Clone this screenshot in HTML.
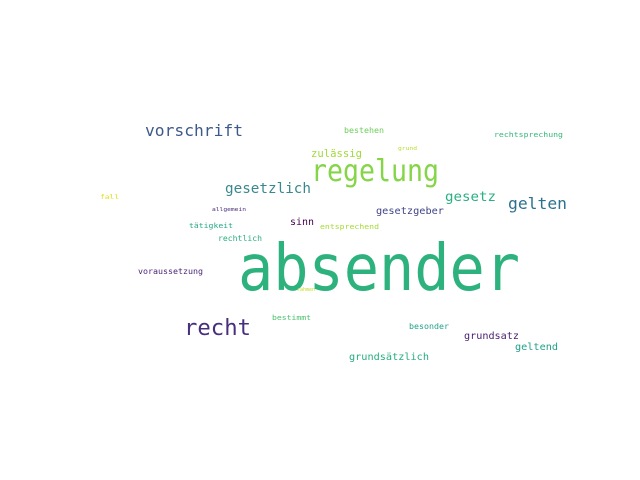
<!DOCTYPE html>
<html><head><meta charset="utf-8"><style>
html,body{margin:0;padding:0;background:#fff;width:640px;height:480px;overflow:hidden}
svg text{font-family:"DejaVu Sans Mono","Liberation Mono",monospace}
</style></head><body>
<svg width="640" height="480" viewBox="0 0 640 480">
<g id="words"></g>
</svg>
<script>
const words=["absender","regelung","vorschrift","recht","gesetzlich","gelten","gesetz","zulässig","bestehen","rechtsprechung","grund","fall","allgemein","tätigkeit","sinn","gesetzgeber","entsprechend","rechtlich","voraussetzung","rahmen","bestimmt","besonder","grundsatz","geltend","grundsätzlich"];
const sizes=[64,30,16,22,14,16,13,11,8,7,5,6,5,7,10,10,7,8,8,5,7,8,10,10,10];
const colors=["#2db27d","#86d549","#3e5a8b","#472f7d","#38888c","#2c728e","#2ab07f","#a0da39","#6ccd5a","#35b779","#b5de2b","#dde318","#472d7b","#22a884","#440154","#414487","#a5db36","#29af7f","#482677","#c2df23","#4ac16d","#20a386","#481f70","#1fa187","#26ad81"];
const xs=[238,311,145,184,225,508,445,311,344,494,398,100,212,189,290,376,320,218,138,297,272,409,464,515,349];
const ys=[290,181,136,335,193,209,201,157,133,137,150,199,211,228,225,214,229,241,274,291,320,329,339,350,360];
const ws=[282,128,98,67,86,59,51,51,40,69,19,19,34,44,24,68,59,44,65,18,39,40,55,43,80];
const g=document.getElementById('words');
words.forEach((w,i)=>{
  const t=document.createElementNS('http://www.w3.org/2000/svg','text');
  t.setAttribute('x',xs[i]);t.setAttribute('y',ys[i]);
  t.setAttribute('font-size',sizes[i]);t.setAttribute('fill',colors[i]);
  t.setAttribute('textLength',ws[i]);t.setAttribute('lengthAdjust','spacingAndGlyphs');
  t.textContent=w;
  
  
  g.appendChild(t);
});
</script>
</body></html>
